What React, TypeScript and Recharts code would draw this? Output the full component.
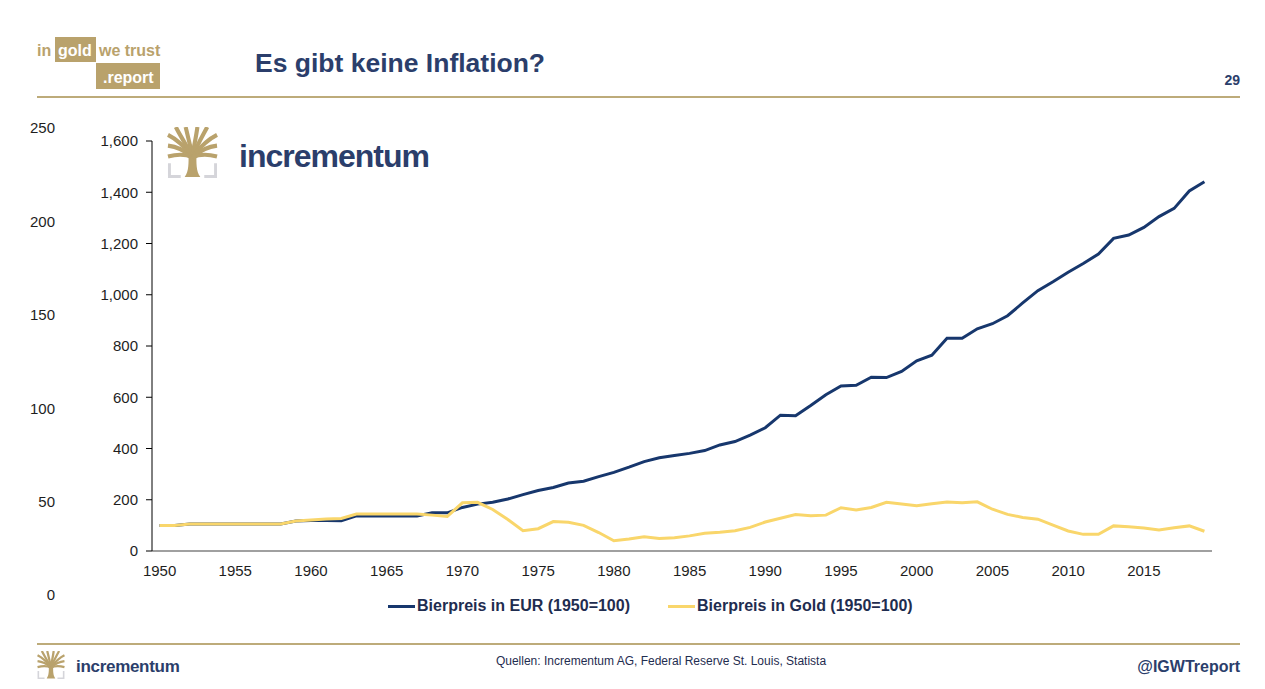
import React from 'react'
import { LineChart, Line, XAxis, YAxis, Legend } from 'recharts'

// Jahre 1950-2019
const YEARS = [
  1950, 1951, 1952, 1953, 1954, 1955, 1956, 1957, 1958, 1959,
  1960, 1961, 1962, 1963, 1964, 1965, 1966, 1967, 1968, 1969,
  1970, 1971, 1972, 1973, 1974, 1975, 1976, 1977, 1978, 1979,
  1980, 1981, 1982, 1983, 1984, 1985, 1986, 1987, 1988, 1989,
  1990, 1991, 1992, 1993, 1994, 1995, 1996, 1997, 1998, 1999,
  2000, 2001, 2002, 2003, 2004, 2005, 2006, 2007, 2008, 2009,
  2010, 2011, 2012, 2013, 2014, 2015, 2016, 2017, 2018, 2019,
]

// Bierpreis in EUR (1950=100)
const EUR_PRICE = [
  100, 100, 105, 105, 105, 105, 105, 105, 105, 117,
  119, 119, 118, 137, 137, 137, 137, 137, 149, 149,
  170, 183, 190, 203, 220, 236, 248, 265, 272, 290,
  307, 327, 349, 364, 373, 381, 392, 414, 427, 452,
  481, 530, 528, 568, 610, 644, 647, 678, 677, 701,
  742, 764, 830, 830, 867, 887, 918, 968, 1016, 1051,
  1088, 1122, 1159, 1220, 1233, 1263, 1305, 1337, 1405, 1441,
]

// Bierpreis in Gold (1950=100)
const GOLD_PRICE = [
  100, 100, 105, 105, 105, 105, 105, 105, 105, 117,
  121, 125, 127, 144, 144, 144, 144, 144, 140, 135,
  188, 190, 162, 123, 79, 87, 115, 112, 100, 72,
  40, 47, 56, 49, 52, 59, 69, 73, 79, 92,
  113, 128, 142, 138, 140, 169, 160, 170, 190, 183,
  177, 184, 191, 188, 192, 163, 143, 131, 124, 101,
  78, 65, 65, 98, 95, 90, 82, 91, 98, 77,
]

const X_TICKS = [1950, 1955, 1960, 1965, 1970, 1975, 1980, 1985, 1990, 1995, 2000, 2005, 2010, 2015]
const Y_TICKS = [0, 200, 400, 600, 800, 1000, 1200, 1400, 1600]
const LEFT_TICKS = [0, 50, 100, 150, 200, 250]

const SERIES_NAMES = ['Bierpreis in EUR (1950=100)', 'Bierpreis in Gold (1950=100)']

const FONT = '"Liberation Sans", Arial, Helvetica, sans-serif'
const NAVY = '#2B3E6B'
const LINE_BLUE = '#17376D'
const LINE_YELLOW = '#F9D66B'
const GOLD = '#B9A26C'
const RULE = '#BDAB7A'
const TICK_TEXT = '#1E1E1E'

const data = YEARS.map((year, i) => ({
  year,
  eur: EUR_PRICE[i],
  gold: GOLD_PRICE[i],
}))

// Baum-Logo, grob nachgezeichnet
function TreeIcon({ size }: { size: number }) {
  return (
    <svg width={size} height={size} viewBox="0 0 50 52">
      <path d="M1.5 37 V50.5 H13" fill="none" stroke="#D5D5DA" strokeWidth={3} />
      <path d="M48.5 37 V50.5 H37" fill="none" stroke="#D5D5DA" strokeWidth={3} />
      <path d="M17 51 C21.5 45 21 36 21 28 L29 28 C29 36 28.5 45 33 51 Z" fill={GOLD} />
      <g fill="none" stroke={GOLD} strokeWidth={4.2}>
        <path d="M25 31 C17 27 8 28 0 30" />
        <path d="M24 30 C16 23 8 20 0 19" />
        <path d="M24 29 C16 19 8 12 0 8" />
        <path d="M24 29 C18 17 12 8 8 0" />
        <path d="M25 29 C22 17 20 8 18 0" />
        <path d="M25 29 C27 17 29 8 30 0" />
        <path d="M26 29 C30 17 36 8 40 0" />
        <path d="M26 29 C34 19 42 12 50 8" />
        <path d="M26 30 C34 23 42 20 50 19" />
        <path d="M25 31 C33 27 42 28 50 30" />
      </g>
    </svg>
  )
}

function LegendContent(props: any) {
  const items = props.payload ?? []
  return (
    <div
      style={{
        display: 'flex',
        gap: 38,
        fontFamily: FONT,
        fontWeight: 700,
        fontSize: 16,
        lineHeight: '16px',
        color: '#1F2D50',
        whiteSpace: 'nowrap',
      }}
    >
      {items.map((p: any) => (
        <div key={p.value} style={{ display: 'flex', alignItems: 'center' }}>
          <span
            style={{ display: 'inline-block', width: 27, height: 3, background: p.color, marginRight: 2 }}
          />
          <span>{p.value}</span>
        </div>
      ))}
    </div>
  )
}

const abs = (style: React.CSSProperties): React.CSSProperties => ({
  position: 'absolute',
  fontFamily: FONT,
  lineHeight: 1,
  whiteSpace: 'nowrap',
  ...style,
})

export default function App() {
  return (
    <div
      style={{
        position: 'absolute',
        left: 0,
        top: 0,
        width: 1265,
        height: 689,
        background: '#fff',
        overflow: 'hidden',
        fontFamily: FONT,
      }}
    >
      {/* Kopfzeile */}
      <div style={abs({ left: 37, top: 42.5, fontSize: 16, fontWeight: 700, color: GOLD })}>in</div>
      <div style={{ position: 'absolute', left: 55, top: 37, width: 41, height: 25, background: GOLD }} />
      <div style={abs({ left: 58, top: 42.5, fontSize: 16, fontWeight: 700, color: '#fff' })}>gold</div>
      <div style={abs({ left: 99, top: 42.5, fontSize: 16, fontWeight: 700, color: GOLD })}>we trust</div>
      <div style={{ position: 'absolute', left: 96, top: 63, width: 64, height: 26, background: GOLD }} />
      <div style={abs({ left: 103, top: 69.5, fontSize: 16, fontWeight: 700, color: '#fff' })}>.report</div>

      <div style={abs({ left: 255, top: 50, fontSize: 26.5, fontWeight: 700, color: NAVY })}>
        Es gibt keine Inflation?
      </div>
      <div style={abs({ right: 25, top: 73, fontSize: 14, fontWeight: 700, color: NAVY })}>29</div>
      <div style={{ position: 'absolute', left: 37, top: 96, width: 1203, height: 2, background: RULE }} />

      {/* linke Zusatzachse (ohne Achsenlinie) */}
      <div style={{ position: 'absolute', left: 0, top: 0 }}>
        <LineChart width={80} height={689} data={data} margin={{ top: 128, right: 0, bottom: 94, left: 0 }}>
          <XAxis dataKey="year" type="number" domain={[1949.5, 2019.5]} hide />
          <YAxis
            yAxisId="left"
            type="number"
            domain={[0, 250]}
            ticks={LEFT_TICKS}
            width={63}
            axisLine={false}
            tickLine={false}
            tickSize={0}
            tickMargin={8}
            allowDataOverflow
            tick={{ fontSize: 15, fill: TICK_TEXT, fontFamily: FONT }}
          />
          <Line yAxisId="left" dataKey="gold" hide isAnimationActive={false} />
        </LineChart>
      </div>

      {/* Hauptdiagramm */}
      <div style={{ position: 'absolute', left: 0, top: 0 }}>
        <LineChart width={1265} height={689} data={data} margin={{ top: 141, right: 53, bottom: 108, left: 92 }}>
          <XAxis
            dataKey="year"
            type="number"
            domain={[1949.5, 2019.5]}
            ticks={X_TICKS}
            interval={0}
            height={30}
            axisLine={{ stroke: '#808080', strokeWidth: 1.5 }}
            tickLine={false}
            tickSize={6}
            tickMargin={8}
            tick={{ fontSize: 15, fill: TICK_TEXT, fontFamily: FONT }}
          />
          <YAxis
            type="number"
            domain={[0, 1600]}
            ticks={Y_TICKS}
            width={60}
            axisLine={{ stroke: '#000' }}
            tickLine={{ stroke: '#000' }}
            tickSize={6}
            tickMargin={8}
            tick={{ fontSize: 15, fill: TICK_TEXT, fontFamily: FONT }}
            tickFormatter={(v: number) => v.toLocaleString('en-US')}
          />
          <Legend
            layout="horizontal"
            verticalAlign="middle"
            align="center"
            wrapperStyle={{ left: 388, top: 598, width: 560, height: 16 }}
            content={LegendContent}
          />
          <Line
            type="linear"
            dataKey="eur"
            name={SERIES_NAMES[0]}
            stroke={LINE_BLUE}
            strokeWidth={3}
            dot={false}
            activeDot={false}
            isAnimationActive={false}
          />
          <Line
            type="linear"
            dataKey="gold"
            name={SERIES_NAMES[1]}
            stroke={LINE_YELLOW}
            strokeWidth={3}
            dot={false}
            activeDot={false}
            isAnimationActive={false}
          />
        </LineChart>
      </div>

      {/* incrementum Logo im Diagramm */}
      <div style={{ position: 'absolute', left: 167, top: 127 }}>
        <TreeIcon size={51} />
      </div>
      <div style={abs({ left: 239, top: 139.5, fontSize: 32, fontWeight: 700, color: NAVY, letterSpacing: -1 })}>
        incrementum
      </div>

      {/* Fußzeile */}
      <div style={{ position: 'absolute', left: 37, top: 643, width: 1203, height: 2, background: RULE }} />
      <div style={{ position: 'absolute', left: 37, top: 651 }}>
        <TreeIcon size={28} />
      </div>
      <div style={abs({ left: 76, top: 657.5, fontSize: 17, fontWeight: 700, color: NAVY, letterSpacing: -0.3 })}>
        incrementum
      </div>
      <div style={abs({ left: 461, width: 400, top: 655, fontSize: 12, color: '#1F2D50', textAlign: 'center' })}>
        Quellen: Incrementum AG, Federal Reserve St. Louis, Statista
      </div>
      <div style={abs({ right: 25, top: 658.5, fontSize: 16, fontWeight: 700, color: NAVY })}>@IGWTreport</div>
    </div>
  )
}
